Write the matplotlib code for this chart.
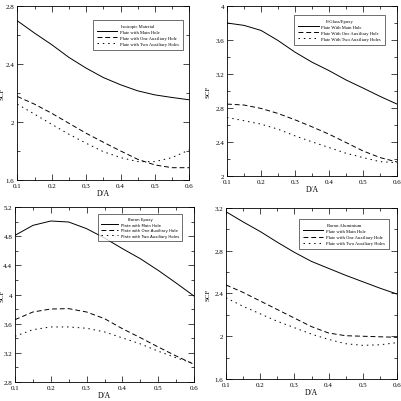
import numpy as np
import matplotlib
matplotlib.use("Agg")
import matplotlib.pyplot as plt
from matplotlib.ticker import MultipleLocator, FormatStrFormatter, FuncFormatter

plt.rcParams['font.family'] = ['Liberation Serif', 'DejaVu Serif']

# D/A values (shared by all panels)
da = [0.1, 0.15, 0.2, 0.25, 0.3, 0.35, 0.4, 0.45, 0.5, 0.55, 0.6]

# Isotropic material
iso_main = [2.70, 2.615, 2.535, 2.447, 2.373, 2.308, 2.258, 2.216, 2.188, 2.170, 2.154]
iso_one = [2.177, 2.124, 2.061, 1.992, 1.923, 1.861, 1.801, 1.743, 1.704, 1.685, 1.685]
iso_two = [2.124, 2.055, 1.985, 1.916, 1.854, 1.796, 1.755, 1.727, 1.727, 1.755, 1.808]

# E-Glass/Epoxy
eg_main = [3.80, 3.772, 3.713, 3.594, 3.457, 3.339, 3.240, 3.130, 3.035, 2.937, 2.846]
eg_one = [2.846, 2.835, 2.795, 2.736, 2.661, 2.579, 2.492, 2.394, 2.295, 2.217, 2.165]
eg_two = [2.689, 2.650, 2.610, 2.551, 2.472, 2.402, 2.335, 2.268, 2.217, 2.169, 2.157]

# Boron Epoxy
be_main = [4.811, 4.948, 5.008, 4.994, 4.903, 4.775, 4.629, 4.491, 4.331, 4.158, 3.979]
be_one = [3.655, 3.760, 3.801, 3.806, 3.760, 3.669, 3.531, 3.408, 3.280, 3.157, 3.042]
be_two = [3.427, 3.518, 3.555, 3.555, 3.537, 3.487, 3.405, 3.323, 3.223, 3.132, 3.054]

# Boron Aluminium
ba_main = [3.165, 3.07, 2.98, 2.88, 2.785, 2.70, 2.635, 2.57, 2.51, 2.45, 2.395]
ba_one = [2.48, 2.41, 2.33, 2.25, 2.17, 2.09, 2.03, 2.005, 2.0, 1.995, 1.99]
ba_two = [2.36, 2.28, 2.21, 2.14, 2.08, 2.02, 1.97, 1.93, 1.915, 1.92, 1.94]

W = 402.0


def box(x0, y0, x1, y1):
    # pixel box (top-left origin) -> figure fraction
    return [x0 / W, 1 - y1 / W, (x1 - x0) / W, (y1 - y0) / W]


def panel(fig, rect, ylim, series, title, labels, anchor, legend_font, ylab_x,
          legend_size=3.3):
    ax = fig.add_axes(rect)
    styles = ['-', (0, (5, 3)), (0, (1.5, 4))]
    for ys, ls, lab in zip(series, styles, labels):
        ax.plot(da, ys, color='black', linestyle=ls, linewidth=0.7, label=lab)
    ax.set_xlim(0.1, 0.6)
    ax.set_ylim(*ylim)
    ax.xaxis.set_major_locator(MultipleLocator(0.1))
    ax.xaxis.set_minor_locator(MultipleLocator(0.05))
    ax.yaxis.set_major_locator(MultipleLocator(0.4))
    ax.yaxis.set_minor_locator(MultipleLocator(0.2))
    ax.xaxis.set_major_formatter(FormatStrFormatter('%.1f'))
    ax.yaxis.set_major_formatter(FuncFormatter(lambda v, p: '%g' % round(v, 2)))
    ax.tick_params(which='both', direction='in', top=True, right=True,
                   labelsize=5, pad=2, width=0.5)
    ax.tick_params(which='major', length=4)
    ax.tick_params(which='minor', length=2)
    for s in ax.spines.values():
        s.set_linewidth(0.6)
    ax.set_xlabel('D/A', fontsize=5.5, labelpad=1)
    ax.set_ylabel('SCF', fontsize=5)
    ax.yaxis.set_label_coords(ylab_x, 0.5)
    leg = ax.legend(title=title, loc='upper right', bbox_to_anchor=anchor,
                    prop={'size': legend_size, 'family': legend_font},
                    title_fontproperties={'size': legend_size, 'family': legend_font},
                    frameon=True, fancybox=False, edgecolor='black',
                    handlelength=4.5, borderpad=0.8, labelspacing=0.4,
                    handletextpad=0.6)
    leg.get_frame().set_linewidth(0.5)
    return ax


fig = plt.figure(figsize=(4.02, 4.02), dpi=100)

panel(fig, box(17.3, 7.3, 189.3, 181), (1.6, 2.8),
      [iso_main, iso_one, iso_two], 'Isotropic Material',
      ['Plate with Main Hole', 'Plate with One Auxiliary Hole',
       'Plate with Two Auxiliary Holes'], (0.975, 0.933), 'Liberation Serif',
      -0.075)

panel(fig, box(227, 7, 397, 177), (2.0, 4.0),
      [eg_main, eg_one, eg_two], 'E-Glass/Epoxy',
      ['Plate With Main Hole', 'Plate With One Auxiliary Hole',
       'Plate With Two Auxiliary Holes'], (0.941, 0.959), 'Liberation Serif',
      -0.095)

panel(fig, box(15, 208, 194, 383), (2.8, 5.2),
      [be_main, be_one, be_two], 'Boron Epoxy',
      ['Plate with Main Hole', 'Plate with One Auxiliary Hole',
       'Plate with Two Auxiliary Holes'], (0.944, 0.971), 'DejaVu Sans',
      -0.058, legend_size=2.8)

panel(fig, box(226, 209, 397, 380), (1.6, 3.2),
      [ba_main, ba_one, ba_two], 'Boron Aluminium',
      ['Plate with Main Hole', 'Plate with One Auxiliary Hole',
       'Plate with Two Auxiliary Holes'], (0.965, 0.947), 'Liberation Serif',
      -0.09)

fig.savefig('out.png', dpi=100)
